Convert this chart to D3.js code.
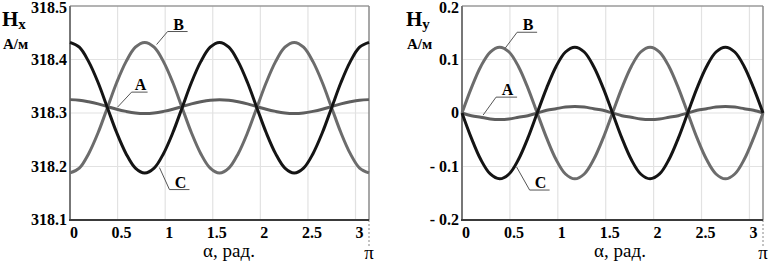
<!DOCTYPE html>
<html>
<head>
<meta charset="utf-8">
<script src="https://cdn.jsdelivr.net/npm/d3@7"></script>
<style>
body { margin: 0; background: #fff; }
svg { display: block; }
</style>
</head>
<body>
<script>
var width = 771, height = 266;

// angle alpha, rad (step pi/32)
var alpha = [0, 0.098, 0.196, 0.295, 0.393, 0.491, 0.589, 0.687, 0.785, 0.884, 0.982, 1.080,
  1.178, 1.276, 1.374, 1.473, 1.571, 1.669, 1.767, 1.865, 1.963, 2.062, 2.160, 2.258,
  2.356, 2.454, 2.553, 2.651, 2.749, 2.847, 2.945, 3.043, 3.142];

// Hx, A/m
var hxA = [318.325, 318.324, 318.321, 318.317, 318.312, 318.307, 318.303, 318.300, 318.299, 318.300, 318.303,
  318.307, 318.312, 318.317, 318.321, 318.324, 318.325, 318.324, 318.321, 318.317, 318.312, 318.307,
  318.303, 318.300, 318.299, 318.300, 318.303, 318.307, 318.312, 318.317, 318.321, 318.324, 318.325];
var hxB = [318.188, 318.197, 318.224, 318.263, 318.310, 318.357, 318.396, 318.423, 318.432, 318.423, 318.396,
  318.357, 318.310, 318.263, 318.224, 318.197, 318.188, 318.197, 318.224, 318.263, 318.310, 318.357,
  318.396, 318.423, 318.432, 318.423, 318.396, 318.357, 318.310, 318.263, 318.224, 318.197, 318.188];
var hxC = [318.432, 318.423, 318.396, 318.357, 318.310, 318.263, 318.224, 318.197, 318.188, 318.197, 318.224,
  318.263, 318.310, 318.357, 318.396, 318.423, 318.432, 318.423, 318.396, 318.357, 318.310, 318.263,
  318.224, 318.197, 318.188, 318.197, 318.224, 318.263, 318.310, 318.357, 318.396, 318.423, 318.432];

// Hy, A/m
var hyA = [0, -0.005, -0.008, -0.011, -0.012, -0.011, -0.008, -0.005, 0, 0.005, 0.008, 0.011, 0.012, 0.011,
  0.008, 0.005, 0, -0.005, -0.008, -0.011, -0.012, -0.011, -0.008, -0.005, 0, 0.005, 0.008, 0.011,
  0.012, 0.011, 0.008, 0.005, 0];
var hyB = [0, 0.047, 0.087, 0.114, 0.123, 0.114, 0.087, 0.047, 0, -0.047, -0.087, -0.114, -0.123, -0.114,
  -0.087, -0.047, 0, 0.047, 0.087, 0.114, 0.123, 0.114, 0.087, 0.047, 0, -0.047, -0.087, -0.114,
  -0.123, -0.114, -0.087, -0.047, 0];
var hyC = [0, -0.047, -0.087, -0.114, -0.123, -0.114, -0.087, -0.047, 0, 0.047, 0.087, 0.114, 0.123, 0.114,
  0.087, 0.047, 0, -0.047, -0.087, -0.114, -0.123, -0.114, -0.087, -0.047, 0, 0.047, 0.087, 0.114,
  0.123, 0.114, 0.087, 0.047, 0];

var xTicks = [0, 0.5, 1, 1.5, 2, 2.5, 3];
var hxTicks = [318.1, 318.2, 318.3, 318.4, 318.5];
var hyTicks = [-0.2, -0.1, 0, 0.1, 0.2];
var hyTickLabels = ["- 0.2", "- 0.1", "0", "0.1", "0.2"];

// leader labels: anchor point on curve (alpha, value)
var hxNotes = [
  {label: "A", a: 0.50, v: 318.311, dx: 14, dy: -15, len: 16},
  {label: "B", a: 0.91, v: 318.428, dx: 11, dy: -13, len: 20},
  {label: "C", a: 0.94, v: 318.198, dx: 10, dy: 22, len: 20}
];
var hyNotes = [
  {label: "A", a: 0.22, v: -0.004, dx: 13, dy: -18, len: 21},
  {label: "B", a: 0.45, v: 0.121, dx: 12, dy: -16, len: 20},
  {label: "C", a: 0.57, v: -0.101, dx: 13, dy: 23, len: 20}
];

var serif = "'Liberation Serif', 'Times New Roman', 'DejaVu Serif', serif";

var svg = d3.select("body")
.append("svg")
.attr("width", width)
.attr("height", height)
.attr("font-family", serif);

drawChart({
  left: 70, right: 369, top: 6, bottom: 220,
  domain: [318.1, 318.5], yTicks: hxTicks,
  yFormat: function(d){ return d3.format(".1f")(d); },
  series: [hxA, hxB, hxC], notes: hxNotes,
  sub: "x", titleX: 2, unitX: 3, xTitleX: 229
});

drawChart({
  left: 462, right: 763, top: 6, bottom: 220,
  domain: [-0.2, 0.2], yTicks: hyTicks,
  yFormat: function(d, i){ return hyTickLabels[i]; },
  series: [hyA, hyB, hyC], notes: hyNotes,
  sub: "y", titleX: 406, unitX: 407, xTitleX: 620
});

function drawChart(o){
  var g = svg.append("g");
  var x = d3.scaleLinear().domain([0, Math.PI]).range([o.left, o.right]);
  var y = d3.scaleLinear().domain(o.domain).range([o.bottom, o.top]);

  // grid
  g.selectAll(".vgrid")
  .data(xTicks.slice(1))
  .enter().append("line")
  .attr("x1", function(d){ return x(d); })
  .attr("x2", function(d){ return x(d); })
  .attr("y1", o.top).attr("y2", o.bottom)
  .attr("stroke", "#e2e2e2").attr("stroke-width", 1.2);

  g.selectAll(".hgrid")
  .data(o.yTicks.slice(1, -1))
  .enter().append("line")
  .attr("x1", o.left).attr("x2", o.right)
  .attr("y1", function(d){ return y(d); })
  .attr("y2", function(d){ return y(d); })
  .attr("stroke", "#e2e2e2").attr("stroke-width", 1.2);

  // frame
  g.append("line").attr("x1", o.left).attr("x2", o.right).attr("y1", o.top).attr("y2", o.top)
  .attr("stroke", "#9a9a9a").attr("stroke-width", 1.5);
  g.append("line").attr("x1", o.right).attr("x2", o.right).attr("y1", o.top).attr("y2", o.bottom)
  .attr("stroke", "#8a8a8a").attr("stroke-width", 1.5);
  g.append("line").attr("x1", o.left).attr("x2", o.left).attr("y1", o.top).attr("y2", o.bottom)
  .attr("stroke", "#777").attr("stroke-width", 2);

  // pi marker
  g.append("line").attr("x1", x(Math.PI)).attr("x2", x(Math.PI)).attr("y1", o.bottom).attr("y2", 247)
  .attr("stroke", "#888").attr("stroke-width", 1).attr("stroke-dasharray", "2,2");
  g.append("text").attr("x", x(Math.PI)).attr("y", 259)
  .attr("text-anchor", "middle").attr("font-size", 19).text("π");

  // curves
  var line = d3.line()
  .x(function(d, i){ return x(alpha[i]); })
  .y(function(d){ return y(d); })
  .curve(d3.curveCatmullRom);
  var colors = ["#5e5e5e", "#6c6c6c", "#141414"];
  g.selectAll(".curve")
  .data(o.series)
  .enter().append("path")
  .attr("d", line)
  .attr("fill", "none")
  .attr("stroke", function(d, i){ return colors[i]; })
  .attr("stroke-width", 3);

  g.append("line").attr("x1", o.left - 1).attr("x2", o.right).attr("y1", o.bottom).attr("y2", o.bottom)
  .attr("stroke", "#3a3a3a").attr("stroke-width", 2);

  // leaders
  o.notes.forEach(function(n){
    var px = x(n.a), py = y(n.v);
    g.append("polyline")
    .attr("points", [[px, py], [px + n.dx, py + n.dy], [px + n.dx + n.len, py + n.dy]].join(" "))
    .attr("fill", "none").attr("stroke", "#555").attr("stroke-width", 1);
    g.append("text")
    .attr("x", px + n.dx + n.len / 2 + 1)
    .attr("y", py + n.dy - 2)
    .attr("text-anchor", "middle")
    .attr("font-size", 16).attr("font-weight", "bold")
    .text(n.label);
  });

  // tick labels
  g.selectAll(".xlab")
  .data(xTicks)
  .enter().append("text")
  .attr("x", function(d){ return x(d) + 4; })
  .attr("y", 238)
  .attr("text-anchor", "middle")
  .attr("font-size", 16).attr("font-weight", "bold")
  .text(function(d){ return d; });

  g.selectAll(".ylab")
  .data(o.yTicks)
  .enter().append("text")
  .attr("x", o.left - 3)
  .attr("y", function(d, i){ return y(d) + (i == o.yTicks.length - 1 ? 7 : 5); })
  .attr("text-anchor", "end")
  .attr("font-size", 16).attr("font-weight", "bold")
  .text(o.yFormat);

  // titles
  var t = g.append("text").attr("x", o.titleX).attr("y", 26)
  .attr("font-size", 21).attr("font-weight", "bold");
  t.append("tspan").text("H");
  t.append("tspan").attr("dy", 3).attr("font-size", 15).text(o.sub);

  g.append("text").attr("x", o.unitX).attr("y", 49)
  .attr("font-size", 15).attr("font-weight", "bold").text("А/м");

  g.append("text").attr("x", o.xTitleX).attr("y", 257)
  .attr("text-anchor", "middle").attr("font-size", 19).text("α, рад.");
}
</script>
</body>
</html>
